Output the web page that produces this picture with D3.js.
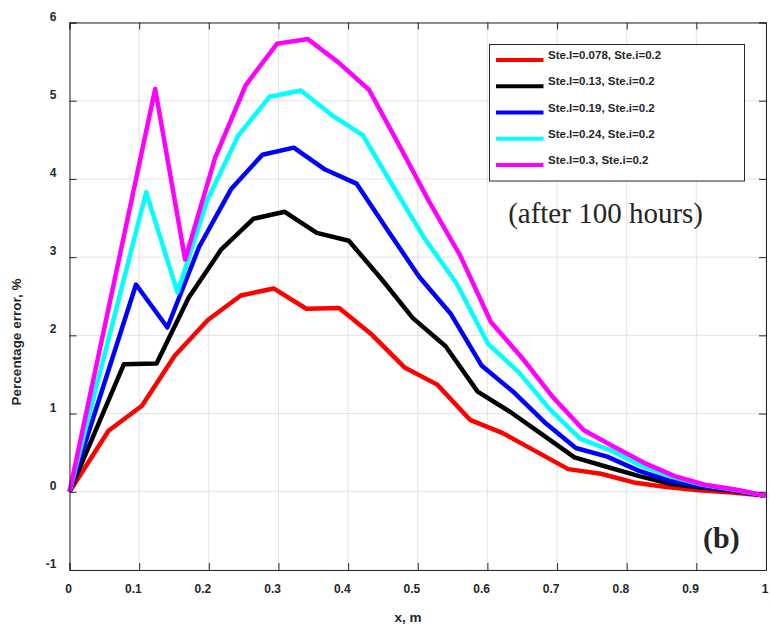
<!DOCTYPE html>
<html>
<head>
<meta charset="utf-8">
<script src="https://cdn.jsdelivr.net/npm/d3@7"></script>
<style>
body { margin: 0; background: #fff; }
text { font-family: "Liberation Sans", Arial, sans-serif; fill: #262626; }
</style>
</head>
<body>
<div id="chart"></div>
<script>
// series, each has its own x nodes
const xRed   = [0, 0.056, 0.104, 0.151, 0.199, 0.246, 0.293, 0.340, 0.387, 0.434, 0.481, 0.528, 0.575, 0.622, 0.669, 0.716, 0.763, 0.810, 0.857, 0.904, 0.951, 1.0];
const yRed   = [0, 0.78, 1.10, 1.74, 2.20, 2.51, 2.60, 2.34, 2.35, 2.01, 1.59, 1.37, 0.92, 0.75, 0.52, 0.29, 0.23, 0.12, 0.06, 0.02, -0.01, -0.05];
const xBlack = [0, 0.078, 0.125, 0.171, 0.218, 0.264, 0.309, 0.355, 0.401, 0.447, 0.493, 0.540, 0.586, 0.633, 0.679, 0.725, 0.771, 0.818, 0.864, 0.910, 0.956, 1.0];
const yBlack = [0, 1.63, 1.64, 2.48, 3.10, 3.49, 3.58, 3.31, 3.21, 2.73, 2.22, 1.86, 1.28, 1.02, 0.73, 0.44, 0.32, 0.20, 0.10, 0.05, 0.01, -0.05];
const xBlue  = [0, 0.0955, 0.1405, 0.186, 0.232, 0.277, 0.322, 0.367, 0.412, 0.457, 0.502, 0.547, 0.592, 0.637, 0.682, 0.727, 0.772, 0.817, 0.862, 0.907, 0.952, 1.0];
const yBlue  = [0, 2.65, 2.10, 3.13, 3.87, 4.31, 4.40, 4.12, 3.94, 3.34, 2.75, 2.28, 1.61, 1.28, 0.89, 0.56, 0.45, 0.27, 0.14, 0.07, 0.02, -0.05];
const xCyan  = [0, 0.110, 0.155, 0.198, 0.242, 0.287, 0.332, 0.376, 0.421, 0.465, 0.509, 0.556, 0.601, 0.645, 0.689, 0.733, 0.777, 0.821, 0.865, 0.909, 0.953, 1.0];
const yCyan  = [0, 3.83, 2.55, 3.73, 4.55, 5.05, 5.13, 4.82, 4.56, 3.90, 3.25, 2.66, 1.89, 1.53, 1.06, 0.68, 0.53, 0.33, 0.19, 0.09, 0.03, -0.05];
const xMag   = [0, 0.123, 0.166, 0.209, 0.253, 0.298, 0.342, 0.386, 0.430, 0.474, 0.517, 0.561, 0.605, 0.649, 0.694, 0.738, 0.781, 0.825, 0.869, 0.912, 0.956, 1.0];
const yMag   = [0, 5.15, 2.97, 4.27, 5.20, 5.73, 5.79, 5.49, 5.14, 4.42, 3.70, 3.02, 2.17, 1.72, 1.21, 0.79, 0.58, 0.37, 0.20, 0.09, 0.03, -0.05];

const legendLabels = [
    'Ste.l=0.078, Ste.i=0.2',
    'Ste.l=0.13, Ste.i=0.2',
    'Ste.l=0.19, Ste.i=0.2',
    'Ste.l=0.24, Ste.i=0.2',
    'Ste.l=0.3, Ste.i=0.2'
];
const lineColors = ['#ff0000', '#000000', '#0000ff', '#00ffff', '#ff00ff'];

const xTicks = [0, 0.1, 0.2, 0.3, 0.4, 0.5, 0.6, 0.7, 0.8, 0.9, 1];
const yTicks = [-1, 0, 1, 2, 3, 4, 5, 6];

const series = [
    {x: xRed, y: yRed},
    {x: xBlack, y: yBlack},
    {x: xBlue, y: yBlue},
    {x: xCyan, y: yCyan},
    {x: xMag, y: yMag}
].map((s, i) => ({
    label: legendLabels[i],
    color: lineColors[i],
    points: s.x.map((v, j) => [v, s.y[j]])
}));

const width = 770;
const height = 632;

const svg = d3.select('#chart')
    .append('svg')
    .attr('width', width)
    .attr('height', height);

const x = d3.scaleLinear().domain([0, 1]).range([69.5, 766]);
const y = d3.scaleLinear().domain([-1, 6]).range([570, 22.5]);

// grid
const grid = svg.append('g');
grid.selectAll('.gx').data(xTicks).enter().append('line')
    .attr('x1', d => x(d)).attr('x2', d => x(d))
    .attr('y1', y(6)).attr('y2', y(-1))
    .attr('stroke', '#e3e3e3');
grid.selectAll('.gy').data(yTicks).enter().append('line')
    .attr('x1', x(0)).attr('x2', x(1))
    .attr('y1', d => y(d)).attr('y2', d => y(d))
    .attr('stroke', '#e3e3e3');

// curves
const line = d3.line().x(d => x(d[0])).y(d => y(d[1]));
svg.append('g').selectAll('path')
    .data(series)
    .enter().append('path')
    .attr('d', d => line(d.points))
    .attr('fill', 'none')
    .attr('stroke', d => d.color)
    .attr('stroke-width', 4.5)
    .attr('stroke-linejoin', 'round');

// axes, ticks pointing inwards on all four sides
const fmt = d => String(+d.toFixed(1));
const axB = svg.append('g')
    .attr('transform', `translate(0,${y(-1)})`)
    .call(d3.axisBottom(x).tickValues(xTicks).tickSize(-7).tickFormat(fmt));
axB.selectAll('text')
    .attr('y', 22.7).attr('dy', null)
    .attr('x', 2).attr('text-anchor', 'end');

const axL = svg.append('g')
    .attr('transform', `translate(${x(0)},0)`)
    .call(d3.axisLeft(y).tickValues(yTicks).tickSize(-7).tickFormat(fmt));
axL.selectAll('text')
    .attr('x', -13).attr('dy', null)
    .attr('y', -2.5);

svg.append('g')
    .attr('transform', `translate(0,${y(6)})`)
    .call(d3.axisTop(x).tickValues(xTicks).tickSize(-7).tickFormat(''));
svg.append('g')
    .attr('transform', `translate(${x(1)},0)`)
    .call(d3.axisRight(y).tickValues(yTicks).tickSize(-7).tickFormat(''));

svg.selectAll('.domain').attr('stroke', '#262626');
svg.selectAll('.tick line').attr('stroke', '#262626');
svg.selectAll('.tick text')
    .attr('fill', '#262626')
    .style('font-family', '"Liberation Sans", Arial, sans-serif')
    .style('font-size', '12px')
    .style('font-weight', 'bold');

// axis titles
svg.append('text')
    .attr('x', 408).attr('y', 622)
    .attr('text-anchor', 'middle')
    .style('font-size', '13.5px').style('font-weight', 'bold')
    .text('x, m');
svg.append('text')
    .attr('transform', 'translate(20.5,342) rotate(-90)')
    .attr('text-anchor', 'middle')
    .style('font-size', '13.5px').style('font-weight', 'bold')
    .text('Percentage error, %');

// legend
const legend = svg.append('g');
legend.append('rect')
    .attr('x', 489.5).attr('y', 44.5)
    .attr('width', 255).attr('height', 136.5)
    .attr('fill', '#fff')
    .attr('stroke', '#262626');
const item = legend.selectAll('.item')
    .data(series)
    .enter().append('g')
    .attr('transform', (d, i) => `translate(0,${60 + i * 26.25})`);
item.append('line')
    .attr('x1', 496).attr('x2', 543.5)
    .attr('stroke', d => d.color)
    .attr('stroke-width', 4);
item.append('text')
    .attr('x', 548).attr('y', -1)
    .style('font-size', '11.5px').style('font-weight', 'bold')
    .attr('fill', '#000')
    .text(d => d.label);

// annotations
svg.append('text')
    .attr('x', 703).attr('y', 223)
    .attr('text-anchor', 'end')
    .style('font-family', '"Liberation Serif", "DejaVu Serif", serif')
    .style('font-size', '29px')
    .attr('fill', '#000')
    .text('(after 100 hours)');
svg.append('text')
    .attr('x', 703).attr('y', 548)
    .style('font-family', '"Liberation Serif", "DejaVu Serif", serif')
    .style('font-size', '30px').style('font-weight', 'bold')
    .attr('fill', '#000')
    .text('(b)');
</script>
</body>
</html>
